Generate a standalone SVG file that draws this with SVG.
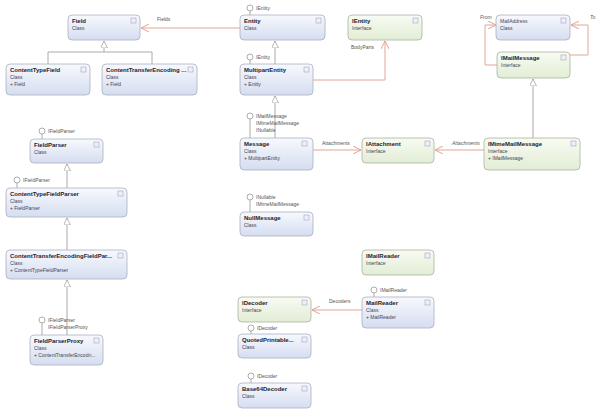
<svg xmlns="http://www.w3.org/2000/svg" width="600" height="413" viewBox="0 0 600 413">
<defs>
<linearGradient id="gc" x1="0" y1="0" x2="0" y2="1"><stop offset="0" stop-color="#f7f9fd"/><stop offset="1" stop-color="#d5ddf0"/></linearGradient>
<linearGradient id="gi" x1="0" y1="0" x2="0" y2="1"><stop offset="0" stop-color="#f8fbf3"/><stop offset="1" stop-color="#e2edd5"/></linearGradient>
<marker id="tri" viewBox="0 0 10 10" refX="10" refY="5" markerWidth="7" markerHeight="7" orient="auto" markerUnits="userSpaceOnUse"><path d="M0,0 L10,5 L0,10 Z" fill="#fff" stroke="#999"/></marker>
<marker id="op" viewBox="0 0 10 10" refX="10" refY="5" markerWidth="8" markerHeight="8" orient="auto" markerUnits="userSpaceOnUse"><path d="M0,0 L10,5 L0,10" fill="none" stroke="#e0a090" stroke-width="1.2"/></marker>
</defs>
<style>
.c{fill:url(#gc);stroke:#a8b0c0;stroke-width:0.8}
.i{fill:url(#gi);stroke:#a8b4a0;stroke-width:0.8}
.n{font-family:"Liberation Sans",sans-serif;font-size:6px;font-weight:bold;fill:#223}
.s{font-family:"Liberation Sans",sans-serif;font-size:5px;fill:#445}
.l{font-family:"Liberation Sans",sans-serif;font-size:5px;fill:#555}
.g{fill:none;stroke:#aaa;stroke-width:1}
.a{fill:none;stroke:#e0a898;stroke-width:1}
.k{fill:#eef;stroke:#99a;stroke-width:0.5}
.o{fill:#fff;stroke:#999;stroke-width:0.8}
</style>
<rect width="600" height="413" fill="#fff"/>
<g id="connectors">
<path class="g" d="M48,64 V52 H152 V64" />
<path class="g" d="M104,52 V41" marker-end="url(#tri)"/>
<path class="g" d="M275,64 V41" marker-end="url(#tri)"/>
<path class="g" d="M275,138 V96" marker-end="url(#tri)"/>
<path class="g" d="M67,188 V164" marker-end="url(#tri)"/>
<path class="g" d="M67,250 V218" marker-end="url(#tri)"/>
<path class="g" d="M67,335 V280" marker-end="url(#tri)"/>
<path class="g" d="M533,138 V79" marker-end="url(#tri)"/>
<path class="a" d="M240,28 H141" marker-end="url(#op)"/>
<path class="a" d="M313,80 H385 V41" marker-end="url(#op)"/>
<path class="a" d="M497,65 H485 V25 H496" marker-end="url(#op)"/>
<path class="a" d="M570,55 H588 V25 H571" marker-end="url(#op)"/>
<path class="a" d="M313,150 H361" marker-end="url(#op)"/>
<path class="a" d="M484,150 H435" marker-end="url(#op)"/>
<path class="a" d="M362,310 H312" marker-end="url(#op)"/>
<g class="l">
<text x="157" y="21">Fields</text>
<text x="351" y="49">BodyParts</text>
<text x="480" y="19" font-style="italic">From</text>
<text x="590" y="19" font-style="italic">To</text>
<text x="322" y="145">Attachments</text>
<text x="452" y="145" font-style="italic">Attachments</text>
<text x="329" y="303">Decoders</text>
</g>
</g>
<g id="lollipops" class="l">
<path class="g" d="M250,11 V15 M250,60 V64 M250,119 V138 M250,200 V212 M42,134 V139 M17,183 V188 M42,323 V335 M251,331 V334 M251,379 V383 M374,293 V297"/>
<circle class="o" cx="250" cy="8" r="3"/><text x="256" y="10">IEntity</text>
<circle class="o" cx="250" cy="57" r="3"/><text x="256" y="59">IEntity</text>
<circle class="o" cx="250" cy="116" r="3"/><text x="256" y="118">IMailMessage</text><text x="256" y="125">IMimeMailMessage</text><text x="256" y="132">INullable</text>
<circle class="o" cx="250" cy="197" r="3"/><text x="256" y="199">INullable</text><text x="256" y="206">IMimeMailMessage</text>
<circle class="o" cx="42" cy="131" r="3"/><text x="48" y="133">IFieldParser</text>
<circle class="o" cx="17" cy="180" r="3"/><text x="23" y="182">IFieldParser</text>
<circle class="o" cx="42" cy="320" r="3"/><text x="48" y="322">IFieldParser</text><text x="48" y="329">IFieldParserProxy</text>
<circle class="o" cx="251" cy="328" r="3"/><text x="257" y="330">IDecoder</text>
<circle class="o" cx="251" cy="376" r="3"/><text x="257" y="378">IDecoder</text>
<circle class="o" cx="374" cy="290" r="3"/><text x="380" y="292">IMailReader</text>
</g>
<g id="Field"><rect class="c" x="68" y="15" width="72" height="25" rx="4"/><rect class="k" x="131" y="18" width="5" height="5"/><text class="n" x="72" y="23">Field</text><text class="s" x="72" y="30">Class</text></g>
<g id="Entity"><rect class="c" x="240" y="15" width="85" height="25" rx="4"/><rect class="k" x="316" y="18" width="5" height="5"/><text class="n" x="244" y="23">Entity</text><text class="s" x="244" y="30">Class</text></g>
<g id="IEntity"><rect class="i" x="348" y="15" width="74" height="25" rx="4"/><rect class="k" x="413" y="18" width="5" height="5"/><text class="n" x="352" y="23">IEntity</text><text class="s" x="352" y="30">Interface</text></g>
<g id="MailAddress"><rect class="c" x="496" y="15" width="74" height="25" rx="4"/><rect class="k" x="561" y="18" width="5" height="5"/><text class="s" x="500" y="23" font-size="6" fill="#778">MailAddress</text><text class="s" x="500" y="30" fill="#889">Class</text></g>
<g id="IMailMessage"><rect class="i" x="497" y="52" width="73" height="26" rx="4"/><rect class="k" x="561" y="55" width="5" height="5"/><text class="n" x="501" y="60">IMailMessage</text><text class="s" x="501" y="67">Interface</text></g>
<g id="ContentTypeField"><rect class="c" x="6" y="64" width="84" height="31" rx="4"/><rect class="k" x="81" y="67" width="5" height="5"/><text class="n" x="10" y="72">ContentTypeField</text><text class="s" x="10" y="79">Class</text><text class="s" x="10" y="86">+ Field</text></g>
<g id="ContentTransferEncodingField"><rect class="c" x="102" y="64" width="95" height="31" rx="4"/><rect class="k" x="188" y="67" width="5" height="5"/><text class="n" x="106" y="72">ContentTransferEncoding ...</text><text class="s" x="106" y="79">Class</text><text class="s" x="106" y="86">+ Field</text></g>
<g id="MultipartEntity"><rect class="c" x="240" y="64" width="73" height="31" rx="4"/><rect class="k" x="304" y="67" width="5" height="5"/><text class="n" x="244" y="72">MultipartEntity</text><text class="s" x="244" y="79">Class</text><text class="s" x="244" y="86">+ Entity</text></g>
<g id="FieldParser"><rect class="c" x="30" y="139" width="73" height="24" rx="4"/><rect class="k" x="94" y="142" width="5" height="5"/><text class="n" x="34" y="147">FieldParser</text><text class="s" x="34" y="154">Class</text></g>
<g id="ContentTypeFieldParser"><rect class="c" x="6" y="188" width="121" height="29" rx="4"/><rect class="k" x="118" y="191" width="5" height="5"/><text class="n" x="10" y="196">ContentTypeFieldParser</text><text class="s" x="10" y="203">Class</text><text class="s" x="10" y="210">+ FieldParser</text></g>
<g id="ContentTransferEncodingFieldParser"><rect class="c" x="6" y="250" width="121" height="29" rx="4"/><rect class="k" x="118" y="253" width="5" height="5"/><text class="n" x="10" y="258">ContentTransferEncodingFieldPar...</text><text class="s" x="10" y="265">Class</text><text class="s" x="10" y="272">+ ContentTypeFieldParser</text></g>
<g id="FieldParserProxy"><rect class="c" x="30" y="335" width="73" height="30" rx="4"/><rect class="k" x="94" y="338" width="5" height="5"/><text class="n" x="34" y="343">FieldParserProxy</text><text class="s" x="34" y="350">Class</text><text class="s" x="34" y="357">+ ContentTransferEncodn...</text></g>
<g id="Message"><rect class="c" x="240" y="138" width="73" height="32" rx="4"/><rect class="k" x="302" y="141" width="5" height="5"/><text class="n" x="244" y="146">Message</text><text class="s" x="244" y="153">Class</text><text class="s" x="244" y="160">+ MultipartEntity</text></g>
<g id="IAttachment"><rect class="i" x="362" y="138" width="72" height="25" rx="4"/><rect class="k" x="425" y="141" width="5" height="5"/><text class="n" x="366" y="146">IAttachment</text><text class="s" x="366" y="153">Interface</text></g>
<g id="IMimeMailMessage"><rect class="i" x="484" y="138" width="96" height="32" rx="4"/><rect class="k" x="571" y="141" width="5" height="5"/><text class="n" x="488" y="146">IMimeMailMessage</text><text class="s" x="488" y="153">Interface</text><text class="s" x="488" y="160">+ IMailMessage</text></g>
<g id="NullMessage"><rect class="c" x="240" y="212" width="73" height="24" rx="4"/><rect class="k" x="304" y="215" width="5" height="5"/><text class="n" x="244" y="220">NullMessage</text><text class="s" x="244" y="227">Class</text></g>
<g id="IMailReader"><rect class="i" x="362" y="250" width="72" height="25" rx="4"/><rect class="k" x="425" y="253" width="5" height="5"/><text class="n" x="366" y="258">IMailReader</text><text class="s" x="366" y="265">Interface</text></g>
<g id="IDecoder"><rect class="i" x="238" y="297" width="73" height="25" rx="4"/><rect class="k" x="302" y="300" width="5" height="5"/><text class="n" x="242" y="305">IDecoder</text><text class="s" x="242" y="312">Interface</text></g>
<g id="MailReader"><rect class="c" x="362" y="297" width="72" height="31" rx="4"/><rect class="k" x="425" y="300" width="5" height="5"/><text class="n" x="366" y="305">MailReader</text><text class="s" x="366" y="312">Class</text><text class="s" x="366" y="319">+ MailReader</text></g>
<g id="QuotedPrintableDecoder"><rect class="c" x="238" y="334" width="73" height="24" rx="4"/><rect class="k" x="302" y="337" width="5" height="5"/><text class="n" x="242" y="342">QuotedPrintable...</text><text class="s" x="242" y="349">Class</text></g>
<g id="Base64Decoder"><rect class="c" x="238" y="383" width="73" height="25" rx="4"/><rect class="k" x="302" y="386" width="5" height="5"/><text class="n" x="242" y="391">Base64Decoder</text><text class="s" x="242" y="398">Class</text></g>
</svg>
